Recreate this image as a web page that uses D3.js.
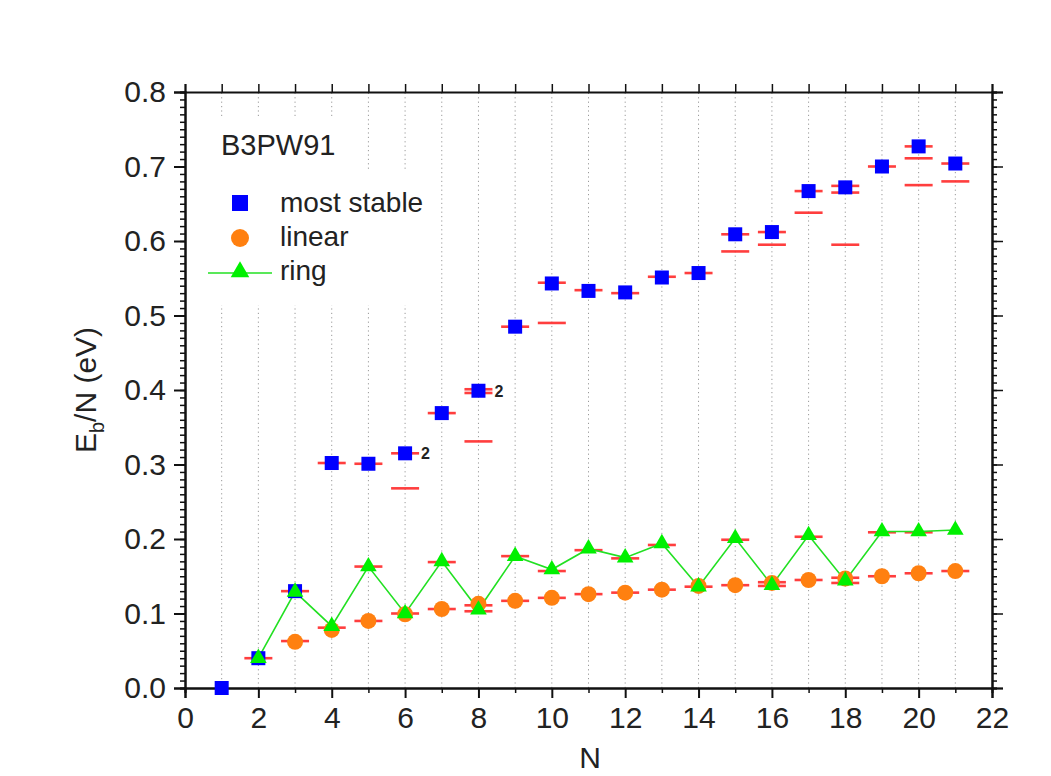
<!DOCTYPE html>
<html><head><meta charset="utf-8">
<script src="https://cdn.jsdelivr.net/npm/d3@7"></script>
<style>body{margin:0;background:#fff}svg{display:block}text{font-family:"Liberation Sans",Arial,sans-serif;fill:#222}</style>
</head><body><svg id="c" width="1051" height="776"></svg>
<script>
// ---- data ----
const stableN = d3.range(1, 22);
const stableV = [0.000,0.040,0.130,0.302,0.301,0.315,0.369,0.399,0.485,0.543,0.533,0.531,0.551,0.557,0.609,0.612,0.667,0.672,0.700,0.727,0.704];
const linearN = d3.range(3, 22);
const linearV = [0.062,0.078,0.090,0.099,0.106,0.113,0.117,0.121,0.126,0.128,0.132,0.137,0.138,0.141,0.145,0.147,0.150,0.154,0.157];
const ringN = d3.range(2, 22);
const ringV = [0.040,0.129,0.083,0.163,0.100,0.170,0.105,0.177,0.159,0.187,0.175,0.194,0.136,0.201,0.138,0.205,0.144,0.210,0.210,0.212];
// red bars (isomer levels)
const barN = [2,3,3,4,4,5,5,5,6,6,6,7,7,7,8,8,8,8,8,9,9,9,10,10,10,10,11,11,11,12,12,12,13,13,13,14,14,15,15,15,15,16,16,16,16,17,17,17,17,18,18,18,18,18,19,19,19,20,20,20,20,20,21,21,21];
const barV = [0.040,0.130,0.063,0.302,0.081,0.301,0.163,0.090,0.315,0.268,0.100,0.369,0.169,0.106,0.401,0.396,0.331,0.111,0.103,0.485,0.177,0.117,0.544,0.490,0.157,0.121,0.534,0.185,0.126,0.530,0.174,0.128,0.552,0.192,0.132,0.557,0.136,0.609,0.586,0.199,0.138,0.612,0.595,0.142,0.137,0.667,0.638,0.203,0.145,0.674,0.665,0.595,0.148,0.141,0.700,0.209,0.150,0.727,0.711,0.675,0.209,0.154,0.704,0.680,0.157];
const noteN = [6, 8];
const noteV = [0.315, 0.399];
const noteText = ["2", "2"];
const xMajor = d3.range(0, 23, 2);
const xMinor = d3.range(1, 22, 2);
const yMajor = d3.range(0, 9).map(i => i / 10);
const yMinor = d3.range(0, 81).map(i => i / 100);
const legendLabels = ["most stable", "linear", "ring"];
const methodLabel = "B3PW91";

// ---- chart ----
const svg = d3.select("#c");
const x = d3.scaleLinear().domain([0, 22]).range([185, 992]);
const y = d3.scaleLinear().domain([0, 0.8]).range([688, 92]);
const X0 = x(0), X1 = x(22), Y0 = y(0), Y1 = y(0.8);

// grid
svg.append("g").selectAll("line").data(d3.range(1, 22)).join("line")
  .attr("x1", d => x(d)).attr("x2", d => x(d)).attr("y1", Y0).attr("y2", Y1)
  .attr("stroke", "#999").attr("stroke-width", 1).attr("stroke-dasharray", "1.2,3.2");

// legend background boxes (cover grid)
svg.append("rect").attr("x", 205).attr("y", 117).attr("width", 145).attr("height", 55).attr("fill", "#fff");
svg.append("rect").attr("x", 200).attr("y", 170).attr("width", 232).attr("height", 135).attr("fill", "#fff");

// axes
function styleAxis(g, lw) {
  g.select(".domain").attr("stroke", "#111").attr("stroke-width", 2);
  g.selectAll(".tick line").attr("stroke", "#111").attr("stroke-width", lw);
  g.selectAll("text").style("font-size", "30px").attr("fill", "#222");
}
const ax = [
  svg.append("g").attr("transform", `translate(0,${Y0})`).call(d3.axisBottom(x).tickValues(xMinor).tickSize(5).tickFormat("")),
  svg.append("g").attr("transform", `translate(0,${Y0})`).call(d3.axisBottom(x).tickValues(xMajor).tickSize(10).tickPadding(9).tickFormat(d3.format("d"))),
  svg.append("g").attr("transform", `translate(0,${Y1})`).call(d3.axisTop(x).tickValues(d3.range(0, 23)).tickSize(8).tickFormat("")),
  svg.append("g").attr("transform", `translate(${X0},0)`).call(d3.axisLeft(y).tickValues(yMinor).tickSize(5).tickFormat("")),
  svg.append("g").attr("transform", `translate(${X0},0)`).call(d3.axisLeft(y).tickValues(yMajor).tickSize(11).tickPadding(8).tickFormat(d3.format(".1f"))),
  svg.append("g").attr("transform", `translate(${X1},0)`).call(d3.axisRight(y).tickValues(yMinor).tickSize(5).tickFormat("")),
  svg.append("g").attr("transform", `translate(${X1},0)`).call(d3.axisRight(y).tickValues(yMajor).tickSize(11).tickFormat(""))
];
ax.forEach((g, i) => styleAxis(g, i === 1 || i === 4 ? 2 : 1.5));

// red bars
svg.append("g").selectAll("line").data(barN.map((n, i) => [n, barV[i]])).join("line")
  .attr("x1", d => x(d[0]) - 14).attr("x2", d => x(d[0]) + 14)
  .attr("y1", d => y(d[1])).attr("y2", d => y(d[1]))
  .attr("stroke", "#ff2a2a").attr("stroke-width", 2.6).attr("opacity", 0.9);

// ring line
const ringData = ringN.map((n, i) => [n, ringV[i]]);
svg.append("path").datum(ringData)
  .attr("d", d3.line().x(d => x(d[0])).y(d => y(d[1])))
  .attr("fill", "none").attr("stroke", "#22e022").attr("stroke-width", 1.6);

// linear circles
svg.append("g").selectAll("circle").data(linearN.map((n, i) => [n, linearV[i]])).join("circle")
  .attr("cx", d => x(d[0])).attr("cy", d => y(d[1])).attr("r", 8)
  .attr("fill", "#ff8010");

// most stable squares
svg.append("g").selectAll("rect").data(stableN.map((n, i) => [n, stableV[i]])).join("rect")
  .attr("x", d => x(d[0]) - 7).attr("y", d => y(d[1]) - 7).attr("width", 14).attr("height", 14)
  .attr("fill", "#0000ff");

// ring triangles
const tri = d3.symbol().type(d3.symbolTriangle).size(120);
svg.append("g").selectAll("path").data(ringData).join("path")
  .attr("transform", d => `translate(${x(d[0])},${y(d[1])})`).attr("d", tri)
  .attr("fill", "#00f000");

// notes
svg.append("g").selectAll("text").data(noteN.map((n, i) => [n, noteV[i], noteText[i]])).join("text")
  .attr("x", d => x(d[0]) + 16).attr("y", d => y(d[1]) + 6)
  .style("font-size", "16px").style("font-weight", "bold").attr("fill", "#333").text(d => d[2]);

// legend
svg.append("text").attr("x", 221).attr("y", 155).style("font-size", "29px").text(methodLabel);
const lg = svg.append("g");
lg.append("rect").attr("x", 232).attr("y", 195).attr("width", 16).attr("height", 16).attr("fill", "#0000ff");
lg.append("circle").attr("cx", 240).attr("cy", 238).attr("r", 9).attr("fill", "#ff8010");
lg.append("line").attr("x1", 208).attr("x2", 272).attr("y1", 273).attr("y2", 273).attr("stroke", "#22e022").attr("stroke-width", 1.6);
lg.append("path").attr("transform", "translate(240,272)").attr("d", d3.symbol().type(d3.symbolTriangle).size(150)).attr("fill", "#00f000");
lg.selectAll("text.l").data(legendLabels).join("text").attr("class", "l")
  .attr("x", 280).attr("y", (d, i) => 212 + i * 34).style("font-size", "28px").text(d => d);

// axis titles
svg.append("text").attr("x", 590).attr("y", 768).attr("text-anchor", "middle").style("font-size", "30px").text("N");
const yt = svg.append("text").attr("transform", "translate(96,390) rotate(-90)").attr("text-anchor", "middle").style("font-size", "30px");
yt.append("tspan").text("E");
yt.append("tspan").attr("dy", 8).style("font-size", "20px").text("b");
yt.append("tspan").attr("dy", -8).text("/N (eV)");
</script></body></html>
